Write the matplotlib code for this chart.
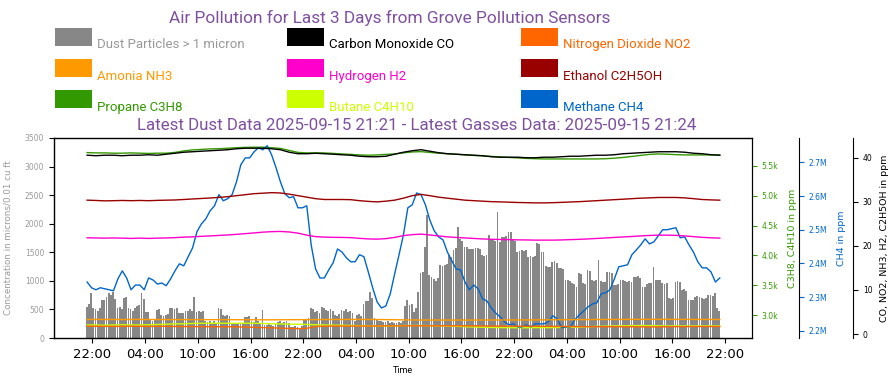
import matplotlib
matplotlib.use('Agg')
import matplotlib.pyplot as plt
import matplotlib.dates as mdates
from matplotlib.ticker import FuncFormatter, MultipleLocator
from matplotlib.patches import Patch, Rectangle
from matplotlib.legend_handler import HandlerPatch
import pandas as pd

# ---- data ----
dust = [550, 600, 780, 520, 500, 480, 520, 660, 660, 720, 780, 760,
        810, 690, 520, 540, 500, 700, 720, 520, 500, 480, 520, 560,
        580, 790, 690, 460, 450, 320, 300, 330, 490, 500, 400, 380,
        400, 420, 520, 530, 500, 520, 430, 440, 430, 480, 470, 500,
        480, 720, 460, 470, 450, 470, 290, 280, 300, 270, 290, 260,
        520, 500, 410, 390, 400, 380, 260, 250, 250, 240, 260, 270,
        370, 360, 380, 290, 280, 370, 290, 270, 490, 230, 220, 240,
        230, 210, 250, 280, 290, 270, 280, 300, 260, 200, 190, 210,
        200, 180, 210, 340, 330, 350, 520, 500, 460, 470, 440, 540,
        530, 490, 480, 500, 480, 400, 390, 420, 490, 480, 500, 460,
        470, 440, 300, 400, 420, 380, 600, 640, 650, 810, 700, 350,
        340, 300, 290, 280, 285, 300, 270, 275, 270, 265, 280, 260,
        300, 560, 660, 580, 600, 450, 520, 800, 1130, 1150, 1600, 2150,
        1100, 1060, 1040, 1000, 1050, 1280, 1260, 1270, 1300, 1450, 1420, 1540,
        1580, 1950, 1740, 1700, 1600, 1590, 1560, 1550, 1560, 1580, 1570, 1560,
        1450, 1430, 1460, 1800, 1710, 1720, 1700, 2210, 1680, 1770, 1760, 1780,
        1860, 1850, 1710, 1700, 1510, 1530, 1540, 1520, 1540, 1420, 1430, 1410,
        1440, 1655, 1640, 1510, 1500, 1260, 1250, 1240, 1330, 1340, 1320, 1220,
        1230, 1200, 1020, 1010, 1000, 960, 950, 900, 1130, 1120, 960, 940,
        1190, 1180, 1010, 1000, 1020, 1365, 990, 980, 985, 1160, 1150, 1140,
        930, 920, 940, 1010, 1020, 1000, 985, 990, 980, 1070, 1060, 1080,
        1050, 900, 890, 950, 955, 960, 1250, 1010, 1020, 1010, 960, 950,
        955, 700, 690, 695, 985, 990, 980, 840, 850, 830, 670, 660,
        665, 720, 730, 710, 700, 690, 695, 750, 760, 740, 780, 520,
        480]

co = [40.59, 40.48, 40.59, 40.59, 40.48, 40.59, 40.59, 40.70, 40.59, 40.82,
      41.04, 41.27, 41.38, 41.50, 41.61, 41.72, 41.84, 42.06, 42.18, 42.18,
      42.18, 42.06, 41.84, 41.27, 40.93, 40.93, 41.04, 40.93, 40.82, 40.70,
      40.59, 40.36, 40.25, 40.25, 40.36, 40.82, 41.27, 41.61, 41.84, 41.50,
      41.16, 40.93, 40.82, 40.70, 40.59, 40.48, 40.25, 40.14, 40.14, 40.14,
      40.02, 40.02, 40.14, 40.14, 40.25, 40.36, 40.36, 40.48, 40.59, 40.59,
      40.70, 40.93, 41.04, 41.16, 41.27, 41.38, 41.38, 41.38, 41.27, 41.04,
      40.93, 40.70, 40.59]

no2 = [1.77, 1.75, 1.75, 1.72, 1.75, 1.77, 1.75, 1.72, 1.75, 1.75,
       1.72, 1.70, 1.70, 1.68, 1.68, 1.66, 1.66, 1.63, 1.59, 1.52,
       1.45, 1.41, 1.34, 1.27, 1.22, 1.29, 1.70, 1.77, 1.81, 1.81,
       1.81, 1.81, 1.81, 1.84, 1.86, 1.86, 1.86, 1.88, 1.88, 1.88,
       1.88, 1.88, 1.88, 1.86, 1.86, 1.84, 1.81, 1.81, 1.81, 1.79,
       1.77, 1.77, 1.75, 1.72, 1.72, 1.70, 1.70, 1.68, 1.68, 1.66,
       1.66, 1.66, 1.66, 1.63, 1.63, 1.63, 1.66, 1.68, 1.68, 1.70,
       1.70, 1.70, 1.70]

nh3 = [3.30, 3.31, 3.30, 3.30, 3.29, 3.30, 3.31, 3.30, 3.29, 3.29,
       3.28, 3.28, 3.27, 3.27, 3.26, 3.26, 3.25, 3.25, 3.24, 3.24,
       3.23, 3.23, 3.24, 3.25, 3.26, 3.27, 3.28, 3.29, 3.30, 3.30,
       3.31, 3.31, 3.30, 3.29, 3.27, 3.25, 3.22, 3.20, 3.19, 3.18,
       3.18, 3.17, 3.17, 3.17, 3.18, 3.18, 3.19, 3.19, 3.20, 3.20,
       3.21, 3.22, 3.23, 3.24, 3.25, 3.26, 3.27, 3.28, 3.29, 3.30,
       3.31, 3.31, 3.32, 3.32, 3.33, 3.33, 3.33, 3.32, 3.32, 3.31,
       3.31, 3.30, 3.30]

h2 = [21.84, 21.81, 21.77, 21.81, 21.77, 21.70, 21.77, 21.70, 21.77, 21.81,
      21.88, 22.00, 22.06, 22.18, 22.27, 22.38, 22.49, 22.63, 22.79, 22.95,
      23.13, 23.24, 23.29, 23.17, 22.90, 22.45, 22.11, 22.00, 21.95, 21.93,
      21.88, 21.72, 21.59, 21.54, 21.66, 21.93, 22.34, 22.56, 22.68, 22.49,
      22.27, 22.06, 21.93, 21.81, 21.70, 21.59, 21.50, 21.47, 21.43, 21.38,
      21.36, 21.32, 21.32, 21.32, 21.36, 21.43, 21.50, 21.59, 21.70, 21.81,
      21.93, 22.04, 22.15, 22.27, 22.38, 22.45, 22.45, 22.40, 22.27, 22.11,
      21.95, 21.84, 21.77]

ethanol = [30.39, 30.32, 30.23, 30.27, 30.32, 30.27, 30.32, 30.27, 30.34, 30.39,
           30.43, 30.54, 30.66, 30.77, 30.88, 31.02, 31.18, 31.41, 31.63, 31.86,
           31.97, 32.09, 32.02, 31.75, 31.41, 31.07, 30.73, 30.54, 30.54, 30.54,
           30.50, 30.27, 30.11, 30.00, 30.16, 30.39, 30.84, 31.41, 31.70, 31.41,
           31.07, 30.84, 30.61, 30.39, 30.27, 30.16, 30.05, 30.00, 29.93, 29.86,
           29.82, 29.77, 29.77, 29.82, 29.89, 29.98, 30.05, 30.16, 30.27, 30.39,
           30.50, 30.61, 30.73, 30.84, 30.91, 31.00, 31.00, 31.00, 30.91, 30.73,
           30.54, 30.45, 30.39]

propane = [5719, 5714, 5714, 5709, 5709, 5714, 5709, 5705, 5709, 5709,
           5722, 5747, 5764, 5772, 5781, 5784, 5792, 5801, 5806, 5809,
           5809, 5801, 5789, 5755, 5722, 5714, 5714, 5714, 5705, 5697,
           5689, 5680, 5675, 5680, 5689, 5697, 5714, 5730, 5735, 5722,
           5709, 5700, 5692, 5680, 5672, 5663, 5655, 5647, 5638, 5630,
           5622, 5617, 5613, 5613, 5613, 5613, 5613, 5613, 5613, 5617,
           5625, 5638, 5655, 5672, 5689, 5697, 5692, 5685, 5680, 5680,
           5680, 5680, 5680]

butane = [2838, 2838, 2833, 2838, 2841, 2838, 2838, 2841, 2846, 2850,
          2855, 2858, 2863, 2866, 2866, 2868, 2866, 2866, 2868, 2866,
          2863, 2858, 2855, 2851, 2850, 2846, 2841, 2838, 2834, 2833,
          2829, 2826, 2824, 2821, 2821, 2824, 2828, 2829, 2829, 2826,
          2824, 2821, 2816, 2809, 2804, 2799, 2796, 2793, 2793, 2791,
          2791, 2793, 2793, 2793, 2796, 2799, 2804, 2809, 2814, 2818,
          2821, 2824, 2826, 2828, 2826, 2824, 2821, 2821, 2821, 2821,
          2821, 2821, 2821]

# methane in millions of ppm, every 30 minutes
methane = [2.345, 2.328, 2.322, 2.328, 2.325, 2.322, 2.319, 2.354, 2.378, 2.357,
           2.322, 2.336, 2.336, 2.322, 2.357, 2.351, 2.339, 2.342, 2.334, 2.354,
           2.378, 2.399, 2.393, 2.420, 2.446, 2.494, 2.517, 2.532, 2.556, 2.571,
           2.604, 2.586, 2.592, 2.604, 2.642, 2.693, 2.713, 2.713, 2.731, 2.743,
           2.737, 2.749, 2.722, 2.684, 2.642, 2.607, 2.595, 2.598, 2.565, 2.565,
           2.571, 2.455, 2.384, 2.357, 2.357, 2.381, 2.402, 2.443, 2.434, 2.417,
           2.405, 2.405, 2.426, 2.420, 2.375, 2.328, 2.286, 2.268, 2.274, 2.310,
           2.369, 2.426, 2.485, 2.565, 2.574, 2.609, 2.604, 2.574, 2.529, 2.497,
           2.479, 2.470, 2.434, 2.408, 2.384, 2.381, 2.345, 2.322, 2.336, 2.325,
           2.295, 2.289, 2.268, 2.253, 2.242, 2.227, 2.218, 2.221, 2.212, 2.212,
           2.218, 2.212, 2.221, 2.221, 2.221, 2.227, 2.245, 2.236, 2.209, 2.212,
           2.212, 2.233, 2.247, 2.259, 2.271, 2.280, 2.283, 2.310, 2.313, 2.322,
           2.354, 2.390, 2.393, 2.396, 2.426, 2.440, 2.455, 2.473, 2.458, 2.464,
           2.482, 2.500, 2.500, 2.503, 2.506, 2.476, 2.479, 2.455, 2.434, 2.405,
           2.387, 2.387, 2.375, 2.345, 2.357]

dust_times = pd.date_range('2025-09-12 21:21', periods=289, freq='15min')
gas_times = pd.date_range('2025-09-12 21:24', periods=73, freq='1h')
ch4_times = pd.date_range('2025-09-12 21:24', periods=145, freq='30min')

purple = '#7f4fa0'
c_dust = '#878787'
c_co = '#000000'
c_no2 = '#ff6600'
c_nh3 = '#ff9900'
c_h2 = '#ff00cc'
c_eth = '#990000'
c_c3 = '#339900'
c_c4 = '#ccff00'
c_ch4 = '#0066cc'

W, H = 896, 385
fig = plt.figure(figsize=(W / 100, H / 100), dpi=100)
ax = fig.add_axes([54 / W, 47 / H, 698 / W, 200 / H])

ax.bar(dust_times, dust, width=0.0085, color=c_dust, linewidth=0)
ax.set_ylim(0, 3500)
ax.yaxis.set_major_locator(MultipleLocator(500))
ax.tick_params(axis='y', labelsize=5.5, labelcolor='#999999')
ax.set_ylabel('Concentration in microns/0.01 cu ft', fontsize=6.3, color='#999999')
ax.yaxis.set_label_coords(-0.06, 0.5)
ax.set_xlim(pd.Timestamp('2025-09-12 17:38'), pd.Timestamp('2025-09-16 01:04'))
ax.xaxis.set_major_locator(mdates.HourLocator(byhour=[4, 10, 16, 22]))
ax.xaxis.set_major_formatter(mdates.DateFormatter('%H:%M'))
ax.tick_params(axis='x', labelsize=9.5)
ax.set_xlabel('Time', fontsize=6.5, family='Roboto')

# propane / butane axis
ax1 = ax.twinx()
ax1.plot(gas_times, propane, color=c_c3, lw=1)
ax1.plot(gas_times, butane, color=c_c4, lw=1)
ax1.set_ylim(2620, 5963)
ax1.yaxis.set_major_locator(MultipleLocator(500))
ax1.yaxis.set_major_formatter(FuncFormatter(lambda v, p: f'{v / 1000:.1f}k'))
ax1.tick_params(axis='y', labelsize=5.5, colors=c_c3)
ax1.set_ylabel('C3H8, C4H10 in ppm', fontsize=6.8, color=c_c3)
ax1.yaxis.set_label_coords(1.051, 0.5)

# methane axis
ax2 = ax.twinx()
ax2.spines['right'].set_position(('axes', 1.0673))
ax2.plot(ch4_times, methane, color=c_ch4, lw=1)
ax2.set_ylim(2.179, 2.772)
ax2.yaxis.set_major_locator(MultipleLocator(0.1))
ax2.yaxis.set_major_formatter(FuncFormatter(lambda v, p: f'{v:.1f}M'))
ax2.tick_params(axis='y', labelsize=5.5, colors=c_ch4)
ax2.set_ylabel('CH4 in ppm', fontsize=6.8, color=c_ch4)
ax2.yaxis.set_label_coords(1.1213, 0.5)

# other gases axis
ax3 = ax.twinx()
ax3.spines['right'].set_position(('axes', 1.1447))
ax3.plot(gas_times, co, color=c_co, lw=1)
ax3.plot(gas_times, ethanol, color=c_eth, lw=1)
ax3.plot(gas_times, h2, color=c_h2, lw=1)
ax3.plot(gas_times, nh3, color=c_nh3, lw=1)
ax3.plot(gas_times, no2, color=c_no2, lw=1)
ax3.set_ylim(-0.9, 44.5)
ax3.yaxis.set_major_locator(MultipleLocator(10))
ax3.tick_params(axis='y', labelsize=5.5)
ax3.set_ylabel('CO, NO2, NH3, H2, C2H5OH in ppm', fontsize=6.8)
ax3.yaxis.set_label_coords(1.1834, 0.5)

fig.text(390 / W, 1 - 18 / H, 'Air Pollution for Last 3 Days from Grove Pollution Sensors',
         ha='center', va='center', fontsize=12.4, color=purple, family='Roboto')
fig.text(417 / W, 1 - 125 / H,
         'Latest Dust Data 2025-09-15 21:21 - Latest Gasses Data: 2025-09-15 21:24',
         ha='center', va='center', fontsize=12.2, color=purple, family='Roboto')


# swatch sits a little above the text baseline, text hangs below it
def top_swatch(legend, orig_handle, xdescent, ydescent, width, height, fontsize):
    return Rectangle((-xdescent, 2.0), width, 13.0)


columns = [
    (55, [('Dust Particles > 1 micron', c_dust, '#999999'),
          ('Amonia NH3', c_nh3, c_nh3),
          ('Propane C3H8', c_c3, c_c3)]),
    (287, [('Carbon Monoxide CO', c_co, c_co),
           ('Hydrogen H2', c_h2, c_h2),
           ('Butane C4H10', c_c4, c_c4)]),
    (521, [('Nitrogen Dioxide NO2', c_no2, c_no2),
           ('Ethanol C2H5OH', c_eth, c_eth),
           ('Methane CH4', c_ch4, c_ch4)]),
]
for x0, entries in columns:
    handles = [Patch(facecolor=fc, edgecolor='none', label=lab) for lab, fc, tc in entries]
    leg = fig.legend(handles=handles, loc='upper left',
                     bbox_to_anchor=(x0 / W, 1 - 38 / H), bbox_transform=fig.transFigure,
                     frameon=False, borderpad=0, borderaxespad=0,
                     handlelength=2.8, handleheight=1.0, labelspacing=1.36,
                     handletextpad=0.4, prop={'family': 'Roboto', 'size': 9.5},
                     handler_map={Patch: HandlerPatch(patch_func=top_swatch)})
    for t, (lab, fc, tc) in zip(leg.get_texts(), entries):
        t.set_color(tc)

fig.savefig('out.png', dpi=100)
